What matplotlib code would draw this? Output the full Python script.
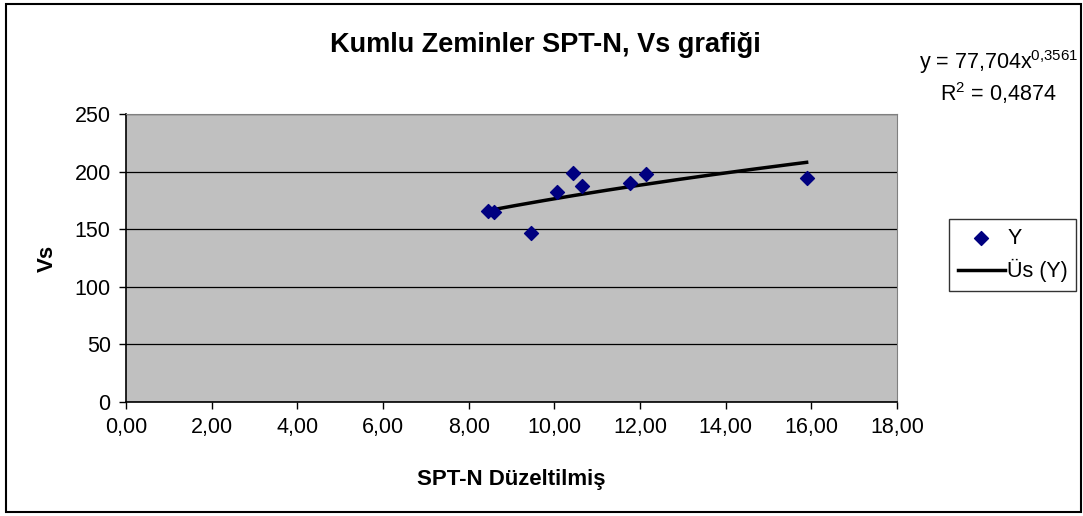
import numpy as np
import matplotlib.pyplot as plt
from matplotlib.patches import Rectangle

plt.rcParams['font.family'] = ['Liberation Sans', 'DejaVu Sans']
plt.rcParams['mathtext.fontset'] = 'custom'
plt.rcParams['mathtext.rm'] = 'Liberation Sans'

# data
spt_n = [8.46, 8.58, 9.46, 10.07, 10.44, 10.65, 11.77, 12.14, 15.89]
vs = [165.5, 165.0, 147.0, 182.3, 199.2, 187.3, 190.2, 197.7, 194.5]
coef_a = 77.704
coef_b = 0.3561
r2_text = "0,4874"
x_ticks = [0, 2, 4, 6, 8, 10, 12, 14, 16, 18]
y_ticks = [0, 50, 100, 150, 200, 250]

W, H = 1083, 516
fs = 15.5

fig = plt.figure(figsize=(W / 100, H / 100), dpi=100)

# outer chart border
fig.patches.append(Rectangle((6 / W, 1 - 512 / H), (1081 - 6) / W, (512 - 4) / H,
                             transform=fig.transFigure, fill=False,
                             edgecolor='black', linewidth=1.5))

ax = fig.add_axes([126 / W, 1 - 402 / H, (897 - 126) / W, (402 - 114) / H])
ax.set_facecolor('#C0C0C0')
ax.set_xlim(0, 18)
ax.set_ylim(0, 250)
ax.set_xticks(x_ticks)
ax.set_xticklabels([f"{t:.2f}".replace('.', ',') for t in x_ticks])
ax.set_yticks(y_ticks)
ax.grid(axis='y', color='black', linewidth=0.9)
ax.set_axisbelow(True)
ax.tick_params(direction='out', length=5, width=1, labelsize=fs, pad=6)
for s in ['top', 'right']:
    ax.spines[s].set_color('#808080')
for s in ['left', 'bottom']:
    ax.spines[s].set_color('black')
    ax.spines[s].set_linewidth(1.2)

# power trendline
xs = np.linspace(min(spt_n), max(spt_n), 200)
ax.plot(xs, coef_a * xs ** coef_b, color='black', linewidth=2.5, label='Üs (Y)', zorder=3)
ax.scatter(spt_n, vs, marker='D', s=50, color='#000080', label='Y', zorder=4)

ax.set_xlabel('SPT-N Düzeltilmiş', fontsize=16, fontweight='bold', labelpad=22)
ax.set_ylabel('Vs', fontsize=16, fontweight='bold', labelpad=12)

fig.text(545 / W, 1 - 45 / H, 'Kumlu Zeminler SPT-N, Vs grafiği', ha='center', va='center',
         fontsize=19.5, fontweight='bold')
fig.text(1078 / W, 1 - 62 / H, r'y = 77,704x$^{\mathrm{0{,}3561}}$', ha='right', va='center',
         fontsize=fs)
fig.text(1056 / W, 1 - 93 / H, r'R$^{\mathrm{2}}$ = ' + r2_text, ha='right', va='center',
         fontsize=fs)

handles, labels = ax.get_legend_handles_labels()
leg = fig.legend(handles[::-1], labels[::-1], loc='center left',
                 bbox_to_anchor=(949 / W, 1 - 255 / H), fontsize=fs,
                 frameon=True, fancybox=False, edgecolor='black',
                 handlelength=2.2, handletextpad=0.1, borderpad=0.4, labelspacing=0.5,
                 borderaxespad=0)
leg.get_frame().set_linewidth(1)

fig.savefig('out.png', dpi=100)
